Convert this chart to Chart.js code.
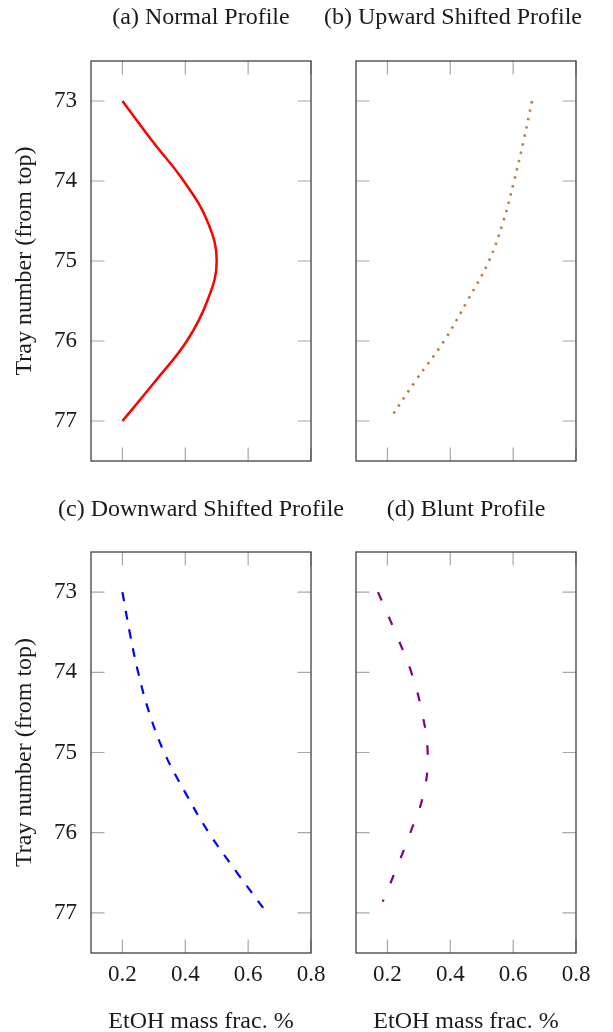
<!DOCTYPE html>
<html>
<head>
<meta charset="utf-8">
<script src="https://cdn.jsdelivr.net/npm/chart.js@4.4.0/dist/chart.umd.min.js"></script>
<style>
  body { margin: 0; background: #fff; width: 613px; height: 1032px; position: relative; overflow: hidden; }
  canvas { position: absolute; left: 0; }
</style>
</head>
<body>
<canvas id="pa" width="613" height="490" style="top:0"></canvas>
<canvas id="pb" width="613" height="490" style="top:0"></canvas>
<canvas id="pc" width="613" height="542" style="top:490px"></canvas>
<canvas id="pd" width="613" height="542" style="top:490px"></canvas>
<script>
// tick values
const xTicks = [0.2, 0.4, 0.6, 0.8];
const yTicks = [73, 74, 75, 76, 77];

// (a) normal profile
const normalTrays = [73, 73.5, 74, 74.5, 75, 75.5, 76, 76.5, 77];
const normalFrac = [0.2, 0.295, 0.395, 0.47, 0.5, 0.47, 0.405, 0.305, 0.2];
// (b) upward shifted
const upTrays = [73, 73.5, 74, 74.5, 75, 75.5, 76, 76.5, 76.95];
const upFrac = [0.66, 0.633, 0.603, 0.569, 0.523, 0.454, 0.38, 0.289, 0.212];
// (c) downward shifted
const downTrays = [73, 73.5, 74, 74.5, 75, 75.5, 76, 76.5, 76.97];
const downFrac = [0.2, 0.223, 0.25, 0.285, 0.333, 0.40, 0.475, 0.565, 0.654];
// (d) blunt
const bluntTrays = [73, 73.5, 74, 74.5, 75, 75.5, 76, 76.5, 76.86];
const bluntFrac = [0.17, 0.225, 0.276, 0.31, 0.328, 0.316, 0.273, 0.223, 0.185];

const FONT = '"Liberation Serif", serif';

// box + inward tick marks on all four sides, plus the panel caption
const framePlugin = {
  id: 'frame',
  beforeDatasetsDraw(chart) {
    const { ctx, chartArea: a, scales } = chart;
    const len = 13.5;
    ctx.save();
    ctx.strokeStyle = '#a8a8a8';
    ctx.lineWidth = 1.2;
    ctx.beginPath();
    yTicks.forEach(v => {
      const y = scales.y.getPixelForValue(v);
      ctx.moveTo(a.left, y); ctx.lineTo(a.left + len, y);
      ctx.moveTo(a.right, y); ctx.lineTo(a.right - len, y);
    });
    xTicks.forEach(v => {
      const x = scales.x.getPixelForValue(v);
      ctx.moveTo(x, a.top); ctx.lineTo(x, a.top + len);
      ctx.moveTo(x, a.bottom); ctx.lineTo(x, a.bottom - len);
    });
    ctx.stroke();
    ctx.restore();
  },
  afterDraw(chart, args, opts) {
    const { ctx, chartArea: a } = chart;
    ctx.save();
    ctx.strokeStyle = '#404040';
    ctx.lineWidth = 1.3;
    ctx.strokeRect(a.left, a.top, a.right - a.left, a.bottom - a.top);
    if (opts.text) {
      ctx.fillStyle = '#1a1a1a';
      ctx.font = '24px ' + FONT;
      ctx.textAlign = 'center';
      ctx.textBaseline = 'middle';
      ctx.fillText(opts.text, (a.left + a.right) / 2 + (opts.dx || 0), opts.y);
    }
    ctx.restore();
  }
};

function makePanel(id, title, titleDx, titleY, trays, frac, style, showY, showX, padding) {
  const pts = trays.map((t, i) => ({ x: frac[i], y: t }));
  new Chart(document.getElementById(id), {
    type: 'line',
    data: {
      datasets: [Object.assign({
        data: pts,
        fill: false,
        pointRadius: 0,
        tension: 0.4
      }, style)]
    },
    options: {
      responsive: false,
      animation: false,
      events: [],
      layout: { padding: padding },
      plugins: {
        legend: { display: false },
        tooltip: { enabled: false },
        frame: { text: title, dx: titleDx, y: titleY }
      },
      scales: {
        x: {
          type: 'linear',
          min: 0.1,
          max: 0.8,
          display: showX,
          afterBuildTicks: s => { s.ticks = xTicks.map(v => ({ value: v })); },
          afterFit: s => { s.height = showX ? 79 : 0; s.paddingLeft = 0; s.paddingRight = 0; },
          grid: { display: false, drawTicks: false },
          border: { display: false },
          ticks: {
            padding: 8,
            color: '#1a1a1a',
            font: { family: FONT, size: 23 },
            callback: v => v.toFixed(1)
          },
          title: {
            display: true,
            text: 'EtOH mass frac. %',
            color: '#1a1a1a',
            font: { family: FONT, size: 24, lineHeight: 1 },
            padding: { top: 0, bottom: -2 }
          }
        },
        y: {
          type: 'linear',
          min: 72.5,
          max: 77.5,
          reverse: true,
          display: showY,
          afterBuildTicks: s => { s.ticks = yTicks.map(v => ({ value: v })); },
          afterFit: s => { s.width = showY ? 91 : 0; s.paddingTop = 0; s.paddingBottom = 0; },
          grid: { display: false, drawTicks: false },
          border: { display: false },
          ticks: {
            padding: 14,
            color: '#1a1a1a',
            font: { family: FONT, size: 23 }
          },
          title: {
            display: true,
            text: 'Tray number (from top)',
            color: '#1a1a1a',
            font: { family: FONT, size: 24, lineHeight: 1 },
            padding: { top: 13, bottom: 0 }
          }
        }
      }
    },
    plugins: [framePlugin]
  });
}

makePanel('pa', '(a) Normal Profile', 0, 18, normalTrays, normalFrac,
  { borderColor: '#ff0000', borderWidth: 2.5 },
  true, false, { left: 0, top: 61, right: 302, bottom: 29 });

makePanel('pb', '(b) Upward Shifted Profile', -13, 18, upTrays, upFrac,
  { borderColor: '#c07c3c', borderWidth: 2.6, borderDash: [2.4, 6.2] },
  false, false, { left: 356, top: 61, right: 37, bottom: 29 });

makePanel('pc', '(c) Downward Shifted Profile', 0, 20, downTrays, downFrac,
  { borderColor: '#0000ff', borderWidth: 2.2, borderDash: [9, 10] },
  true, true, { left: 0, top: 62, right: 302, bottom: 0 });

makePanel('pd', '(d) Blunt Profile', 0, 20, bluntTrays, bluntFrac,
  { borderColor: '#800080', borderWidth: 2.2, borderDash: [9, 18] },
  false, true, { left: 356, top: 62, right: 37, bottom: 0 });
</script>
</body>
</html>
